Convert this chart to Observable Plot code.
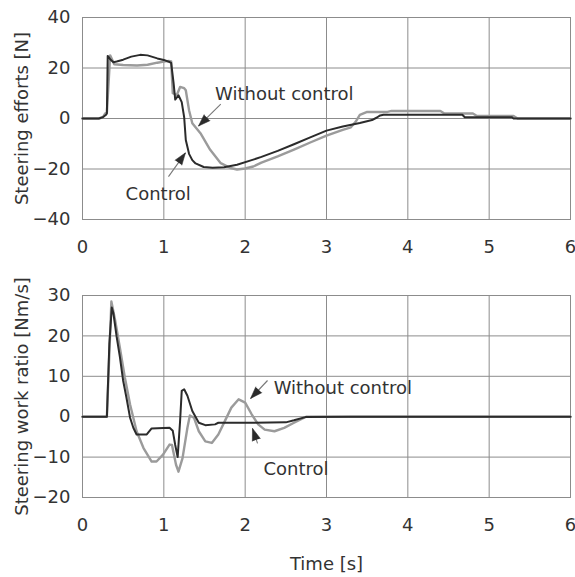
<!DOCTYPE html>
<html>
<head>
<meta charset="utf-8">
<script src="https://cdn.jsdelivr.net/npm/d3@7"></script>
<script src="https://cdn.jsdelivr.net/npm/@observablehq/plot@0.6"></script>
<style>
  html, body { margin: 0; padding: 0; background: #fff; }
  #chart svg { display: block; }
</style>
</head>
<body>
<div id="chart"></div>
<script>
// ---------- data ----------
const timeTicks = [0, 1, 2, 3, 4, 5, 6];
const effortTicks = [-40, -20, 0, 20, 40];
const workTicks = [-20, -10, 0, 10, 20, 30];
const seriesNames = ["Control", "Without control"];

// Steering efforts [N] — Control
const effortCtrlTime = [0, 0.2, 0.25, 0.29, 0.3, 0.31, 0.34, 0.38, 0.42, 0.5, 0.6, 0.71, 0.8, 0.92, 1.0, 1.06, 1.09, 1.12, 1.14, 1.18, 1.22, 1.25, 1.27, 1.31, 1.35, 1.39, 1.49, 1.6, 1.74, 1.9, 2.07, 2.2, 2.4, 2.6, 2.8, 3.0, 3.2, 3.41, 3.56, 3.62, 3.66, 3.7, 4.0, 4.4, 4.67, 4.7, 5.0, 5.28, 5.3, 6.0];
const effortCtrl = [0, 0, 0.5, 1.5, 2, 24.8, 23.5, 22.3, 22.6, 23.3, 24.5, 25.2, 25, 23.8, 23.2, 22.5, 22, 14, 7.5, 9.2, 6.5, 0.5, -8.5, -14, -16.5, -17.8, -19.2, -19.5, -19.3, -18.3, -16.6, -15.2, -12.8, -10.2, -7.5, -4.8, -3.2, -1.8, -0.6, 0.4, 1.2, 1.5, 1.5, 1.5, 1.5, 0.5, 0.5, 0.5, 0, 0];

// Steering efforts [N] — Without control
const effortFreeTime = [0, 0.2, 0.25, 0.28, 0.3, 0.34, 0.39, 0.5, 0.67, 0.8, 0.92, 1.0, 1.06, 1.09, 1.11, 1.16, 1.2, 1.25, 1.27, 1.31, 1.35, 1.45, 1.57, 1.7, 1.82, 1.9, 2.0, 2.1, 2.2, 2.4, 2.6, 2.8, 3.0, 3.2, 3.3, 3.36, 3.41, 3.5, 3.75, 3.8, 4.4, 4.45, 4.8, 4.85, 5.3, 5.35, 6.0];
const effortFree = [0, 0, 0.5, 2, 2.5, 25, 21.5, 21.2, 21, 21.3, 22.1, 22.5, 22.8, 22.6, 10, 9.3, 12.5, 12, 11.2, 3.3, -1.9, -5.8, -12.4, -17.7, -19.6, -20.2, -19.8, -19, -17.5, -15, -12.3, -9.5, -6.8, -4.5, -3.5, -1.2, 1.4, 2.6, 2.6, 3, 3, 2, 2, 1, 1, 0, 0];

// Steering work ratio [Nm/s] — Control
const workCtrlTime = [0, 0.3, 0.33, 0.36, 0.38, 0.42, 0.46, 0.5, 0.54, 0.585, 0.625, 0.665, 0.79, 0.85, 1.07, 1.11, 1.14, 1.17, 1.2, 1.22, 1.25, 1.29, 1.35, 1.43, 1.51, 1.63, 1.67, 2.0, 2.5, 2.6, 2.74, 3.3, 6.0];
const workCtrl = [0, 0, 18, 27, 25.6, 19.75, 14.75, 8.9, 4.75, -0.25, -2.75, -4.4, -4.4, -2.9, -2.75, -3.5, -7, -10, -1, 6.4, 6.8, 5.2, 1.4, -1.5, -2.1, -1.9, -1.5, -1.5, -1.4, -0.9, -0.1, 0, 0];

// Steering work ratio [Nm/s] — Without control
const workFreeTime = [0, 0.3, 0.355, 0.4, 0.46, 0.52, 0.585, 0.665, 0.75, 0.85, 0.91, 0.99, 1.07, 1.1, 1.15, 1.18, 1.23, 1.29, 1.32, 1.37, 1.43, 1.51, 1.59, 1.67, 1.75, 1.83, 1.92, 2.0, 2.08, 2.16, 2.24, 2.36, 2.48, 2.6, 2.75, 6.0];
const workFree = [0, 0, 28.5, 24, 17, 9.75, 3, -3.6, -7.75, -11.1, -11.1, -9.4, -6.9, -7, -11.9, -13.6, -10.25, -2.75, 0.3, -0.25, -3.6, -6.1, -6.5, -4.4, -1.1, 2.25, 4.3, 3.5, 0.6, -1.9, -3.2, -3.6, -2.75, -1.5, 0, 0];

// annotations: label text, label position, arrow start and arrow tip
const effortLabels = ["Without control", "Control"];
const effortLabelX = [1.63, 0.53];
const effortLabelY = [9.5, -30];
const effortArrowX1 = [1.70, 1.057];
const effortArrowY1 = [5.7, -23.0];
const effortArrowX2 = [1.426, 1.266];
const effortArrowY2 = [-3.0, -13.6];

const workLabels = ["Without control", "Control"];
const workLabelX = [2.35, 2.225];
const workLabelY = [7.0, -13.1];
const workArrowX1 = [2.275, 2.152];
const workArrowY1 = [8.96, -6.6];
const workArrowX2 = [2.066, 2.09];
const workArrowY2 = [4.5, -2.9];

// ---------- helpers ----------
const W = 575, ML = 82, MR = 5;
const FONT = "DejaVu Sans";
const TEXT = "#333";
const GRID = "#8c8c8c";
const DARK = "#2b2b2b";
const LIGHT = "#9b9b9b";

function rows(ts, vs, s) { return ts.map((t, i) => ({t, v: vs[i], s})); }

function annotationRows(labels, lx, ly, x1, y1, x2, y2) {
  return labels.map((text, i) => ({text, lx: lx[i], ly: ly[i], x1: x1[i], y1: y1[i], x2: x2[i], y2: y2[i]}));
}

function makePanel({data, yDomain, yTicks, yLabel, annos, height, marginTop, marginBottom, xLabel}) {
  const plotH = height - marginTop - marginBottom;
  const plotW = W - ML - MR;
  const xPx = (x) => x / 6 * plotW;
  const yPx = (y) => (yDomain[1] - y) / (yDomain[1] - yDomain[0]) * plotH;
  const rot = (d) => Math.atan2(xPx(d.x2) - xPx(d.x1), -(yPx(d.y2) - yPx(d.y1))) * 180 / Math.PI;
  return Plot.plot({
    width: W,
    height,
    marginLeft: ML,
    marginRight: MR,
    marginTop,
    marginBottom,
    style: {fontFamily: FONT, fontSize: "18px", color: TEXT, background: "#fff", overflow: "visible"},
    x: {domain: [0, 6]},
    y: {domain: yDomain},
    marks: [
      Plot.gridX(timeTicks, {stroke: GRID, strokeOpacity: 1, strokeWidth: 1}),
      Plot.gridY(yTicks, {stroke: GRID, strokeOpacity: 1, strokeWidth: 1}),
      Plot.frame({stroke: GRID, strokeWidth: 1}),
      Plot.axisX({ticks: timeTicks, tickFormat: d3.format("d"), tickSize: 0, tickPadding: 21, label: xLabel, labelAnchor: "center", labelOffset: 72, labelArrow: false, fontSize: 18}),
      Plot.axisY({ticks: yTicks, tickFormat: d3.format("d"), tickSize: 0, tickPadding: 12, label: yLabel, labelAnchor: "center", labelOffset: 67, labelArrow: false, fontSize: 18}),
      Plot.line(data.filter(d => d.s === seriesNames[1]), {x: "t", y: "v", stroke: LIGHT, strokeWidth: 2.4, curve: "linear"}),
      Plot.line(data.filter(d => d.s === seriesNames[0]), {x: "t", y: "v", stroke: DARK, strokeWidth: 2, curve: "linear"}),
      Plot.link(annos, {x1: "x1", y1: "y1", x2: "x2", y2: "y2", stroke: "#777", strokeWidth: 1.1}),
      Plot.vector(annos, {x: "x2", y: "y2", rotate: rot, length: 12, r: 4.2, anchor: "end", shape: "spike", fill: "#2b2b2b", stroke: "#2b2b2b", strokeWidth: 0.5}),
      Plot.text(annos, {x: "lx", y: "ly", text: "text", textAnchor: "start", lineAnchor: "middle", fontSize: 18, fill: TEXT, fontFamily: FONT})
    ]
  });
}

const effortData = [
  ...rows(effortCtrlTime, effortCtrl, seriesNames[0]),
  ...rows(effortFreeTime, effortFree, seriesNames[1])
];
const workData = [
  ...rows(workCtrlTime, workCtrl, seriesNames[0]),
  ...rows(workFreeTime, workFree, seriesNames[1])
];

const topPanel = makePanel({
  data: effortData,
  yDomain: [-40, 40],
  yTicks: effortTicks,
  yLabel: "Steering efforts [N]",
  annos: annotationRows(effortLabels, effortLabelX, effortLabelY, effortArrowX1, effortArrowY1, effortArrowX2, effortArrowY2),
  height: 258,
  marginTop: 17,
  marginBottom: 39,
  xLabel: null
});

const bottomPanel = makePanel({
  data: workData,
  yDomain: [-20, 30],
  yTicks: workTicks,
  yLabel: "Steering work ratio [Nm/s]",
  annos: annotationRows(workLabels, workLabelX, workLabelY, workArrowX1, workArrowY1, workArrowX2, workArrowY2),
  height: 319,
  marginTop: 37,
  marginBottom: 80,
  xLabel: "Time [s]"
});

document.getElementById("chart").append(topPanel, bottomPanel);
</script>
</body>
</html>
